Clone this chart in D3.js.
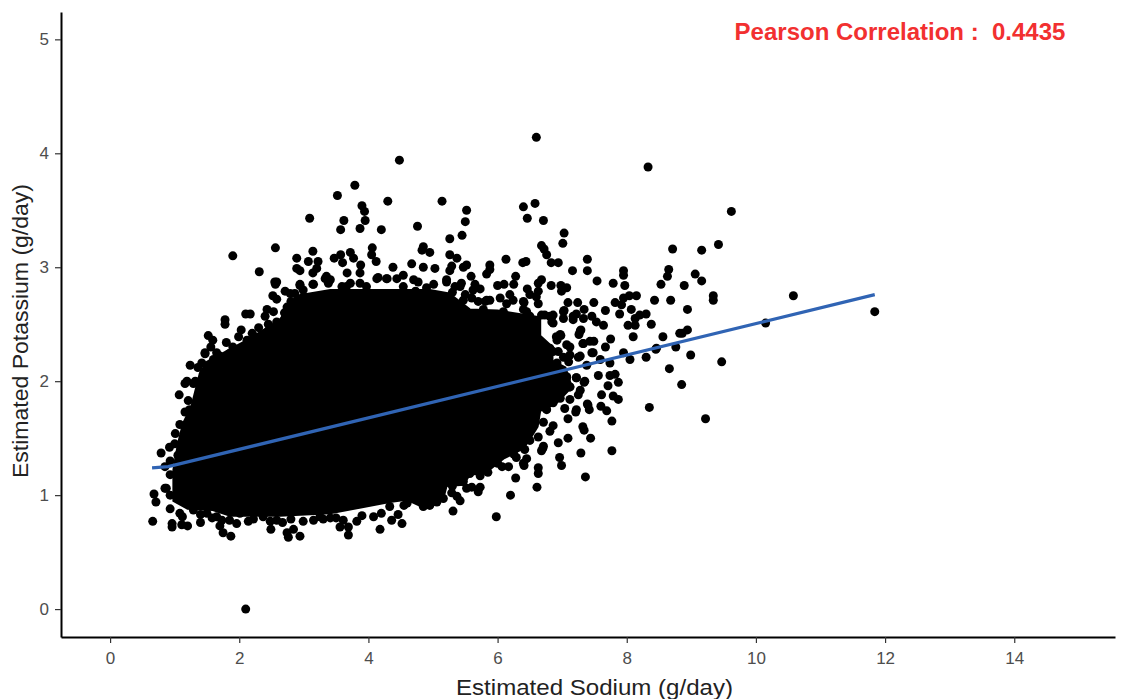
<!DOCTYPE html>
<html><head><meta charset="utf-8">
<script src="https://cdn.jsdelivr.net/npm/d3@7"></script>
<style>html,body{margin:0;padding:0;background:#fff}svg{display:block}</style>
</head><body><svg id="c" width="1126" height="699"></svg>
<script>
const xTicks=[0,2,4,6,8,10,12,14];
const yTicks=[0,1,2,3,4,5];
const xTitle="Estimated Sodium (g/day)";
const yTitle="Estimated Potassium (g/day)";
const note="Pearson Correlation :  0.4435";
const trend=[[0.65,1.24],[0.9,1.25],[11.84,2.76]];
// outline of the fully overplotted centre of the cloud, where single dots cannot be read
const denseOutline=[[0.98,1.22],[0.98,0.95],[1.2,0.88],[1.59,0.87],[1.86,0.82],[2.63,0.82],[3.41,0.84],[4.33,0.94],[4.59,0.96],[4.82,0.90],[5.16,0.97],[5.21,1.08],[5.47,1.09],[5.57,1.18],[5.80,1.19],[6.09,1.32],[6.40,1.41],[6.50,1.49],[6.62,1.60],[6.66,1.74],[6.90,1.80],[7.15,1.95],[7.05,2.12],[6.85,2.18],[6.85,2.30],[6.66,2.40],[6.66,2.56],[6.0,2.62],[5.57,2.63],[5.25,2.77],[4.95,2.80],[3.41,2.80],[2.89,2.75],[2.63,2.54],[2.12,2.36],[1.50,2.17],[1.39,2.07],[1.26,1.78],[1.13,1.63],[1.05,1.45]];
const upperLeft=[[4.48,3.94],[3.79,3.72],[3.52,3.63],[4.30,3.58],[3.90,3.54],[3.94,3.49],[3.95,3.41],[3.09,3.43],[3.62,3.41],[3.57,3.33],[3.87,3.34],[4.20,3.33],[4.76,3.36],[2.56,3.17],[1.90,3.10],[2.31,2.96],[4.85,3.18],[4.83,3.15],[3.14,3.14],[2.89,3.08],[3.07,3.05],[3.22,3.05],[3.47,3.08],[3.57,3.11],[3.60,3.04],[3.72,3.13],[3.77,3.08],[4.06,3.17],[4.05,3.11],[4.12,3.05],[3.88,3.02],[4.38,3.00],[4.67,3.03],[4.85,3.00],[2.89,2.99],[2.94,2.97],[3.20,2.99],[3.14,2.95],[3.67,2.95],[3.87,2.95],[2.58,2.87],[2.56,2.85],[2.71,2.79],[2.52,2.75],[2.58,2.72],[2.10,2.59],[2.17,2.59],[1.78,2.54],[1.78,2.50],[1.52,2.40],[1.59,2.36],[2.03,2.45],[1.99,2.39],[1.80,2.34],[2.24,2.39],[2.48,2.40],[1.56,2.30],[1.47,2.24],[1.84,2.24],[1.24,2.14],[3.35,2.92],[2.94,2.84],[3.14,2.85],[4.15,2.91],[4.77,2.87],[4.73,2.79],[4.29,2.90],[2.43,2.63],[2.53,2.61],[2.40,2.57],[2.58,2.52],[2.74,2.65],[2.86,2.77],[4.54,2.93],[4.44,2.90],[3.41,2.89],[3.66,2.83],[3.87,2.86],[2.99,2.80],[1.70,2.22],[1.96,2.27],[2.12,2.36],[2.58,2.45],[2.68,2.48],[2.37,2.38],[1.42,2.16],[1.60,2.19],
[2.55,2.87],[2.94,2.85],[3.15,2.85],[3.33,2.90],[3.38,2.86],[3.59,2.83],[3.72,2.86],[4.13,2.90],[4.28,2.90],[4.70,2.89],[5.01,2.85],[5.21,2.87],[5.44,2.86],[3.97,2.83],[4.54,2.83],[4.90,2.82],[5.34,2.83],[2.79,2.77],[2.30,2.47],[2.45,2.50],[2.70,2.60],[2.80,2.70],[2.20,2.42],[1.90,2.30],[1.65,2.25],[1.36,2.12]];
const upperRight=[[6.60,4.14],[8.33,3.88],[5.14,3.58],[5.52,3.50],[5.50,3.40],[5.26,3.25],[5.45,3.28],[6.40,3.53],[6.58,3.56],[6.46,3.43],[6.71,3.41],[7.03,3.30],[7.01,3.21],[8.71,3.16],[6.68,3.19],[6.72,3.16],[6.76,3.11],[4.95,3.13],[5.26,3.11],[5.37,3.08],[6.13,3.07],[6.39,3.04],[6.44,3.05],[6.83,3.04],[6.94,3.04],[7.39,3.07],[7.39,2.97],[7.16,2.97],[7.95,2.97],[7.95,2.93],[8.65,2.98],[8.63,2.92],[8.53,2.85],[5.03,2.99],[5.29,3.01],[5.26,2.97],[5.47,3.00],[5.52,3.02],[5.59,2.92],[5.88,3.02],[5.88,2.98],[5.83,2.94],[6.28,2.92],[6.68,2.89],[6.63,2.86],[7.54,2.88],[7.79,2.86],[7.97,2.84],[6.83,2.84],[6.98,2.84],[7.07,2.82],[6.99,2.79],[6.00,2.84],[6.10,2.85],[6.25,2.85],[6.46,2.81],[6.63,2.79],[5.65,2.85],[5.73,2.81],[5.62,2.80],[5.42,2.83],[5.21,2.89],[6.60,2.74],[6.50,2.76],[8.15,2.75],[8.04,2.75],[7.95,2.73],[8.43,2.71],[8.68,2.71],[7.82,2.69],[7.92,2.67],[7.09,2.69],[7.24,2.69],[7.49,2.69],[6.41,2.69],[6.63,2.68],[6.19,2.76],[6.04,2.73],[5.88,2.71],[5.81,2.70],[6.14,2.68],[5.60,2.73],[5.47,2.71],[7.67,2.62],[8.07,2.63],[7.89,2.59],[8.30,2.59],[8.20,2.58],[8.13,2.55],[8.38,2.50],[8.02,2.49],[8.13,2.49],[7.34,2.63],[7.03,2.62],[6.73,2.58],[6.86,2.58],[7.02,2.55],[6.84,2.52],[7.17,2.54],[7.22,2.59],[7.46,2.57],[7.53,2.52],[7.64,2.49],[6.40,2.63],[6.50,2.57],[6.27,2.52],[7.29,2.45],[7.26,2.41],[6.98,2.40],[6.92,2.36],[7.75,2.37],[8.10,2.39],[8.56,2.39],[7.32,2.33],[7.49,2.35],[7.12,2.30],[7.67,2.30],[6.76,2.29],[6.86,2.26],[7.48,2.25],[7.25,2.21],[7.02,2.21],[7.95,2.25],[8.30,2.21],[8.05,2.19],[8.46,2.29],[8.76,2.30],[8.66,2.11],[8.82,2.42],[7.74,2.16],[7.38,2.14],[7.59,2.19],[6.66,2.16],[6.76,2.16],[6.92,2.16],[7.10,2.17],
[7.02,2.61],[7.17,2.57],[7.33,2.55],[6.86,2.51],[6.97,2.41],[6.81,2.29],[6.94,2.26],[7.07,2.32],[7.12,2.23],[7.28,2.22],[7.46,2.25],[6.91,2.39],[7.28,2.44],[7.33,2.33],[7.43,2.35],[7.07,2.03],[7.22,2.03],[7.35,2.00],[7.12,1.95],[7.28,1.92],[6.91,2.01],[6.97,1.92],[6.81,1.87],[6.97,1.85],[7.22,1.75],[7.40,1.79],[6.75,1.76],[5.83,2.71],[6.24,2.71],[6.40,2.70],[5.78,2.63],[6.09,2.61],[6.45,2.61],[6.68,2.58],[6.81,2.57],[5.30,2.78],[5.50,2.76],[5.70,2.70]];
const farRight=[[9.62,3.49],[9.42,3.20],[9.16,3.15],[9.06,2.94],[9.16,2.88],[8.89,2.84],[9.34,2.75],[9.34,2.71],[10.58,2.75],[8.94,2.63],[11.84,2.61],[10.15,2.51],[8.94,2.45],[8.86,2.42],[8.45,2.28],[8.99,2.23],[9.47,2.17],[8.85,1.97],[8.35,1.77],[9.22,1.67]];
const lowerRight=[[7.56,2.05],[7.74,2.05],[7.82,2.06],[7.87,1.99],[7.71,1.96],[7.61,1.88],[7.79,1.87],[7.87,1.84],[7.60,1.78],[7.69,1.74],[7.77,1.65],[7.39,1.80],[7.42,1.75],[7.34,1.99],[7.22,2.03],[7.07,2.04],[6.99,1.97],[7.12,1.95],[7.25,1.88],[7.12,1.84],[7.04,1.76],[7.21,1.73],[7.09,1.67],[6.86,1.81],[6.76,1.75],[6.71,1.64],[6.86,1.61],[6.81,1.56],[7.32,1.60],[7.34,1.57],[7.44,1.50],[7.09,1.50],[6.94,1.46],[6.63,1.51],[6.71,1.43],[6.68,1.39],[7.29,1.37],[7.77,1.39],[6.96,1.33],[6.99,1.26],[7.36,1.16],[6.63,1.24],[6.63,1.19],[6.41,1.26],[6.45,1.32],[6.29,1.33],[6.07,1.25],[6.17,1.25],[6.28,1.15],[6.61,1.07],[6.20,1.00],[5.98,0.81],[5.31,0.86],[5.73,1.17],[5.52,1.06],[5.60,1.07],[5.73,1.07],[5.70,1.03],[5.29,1.02],[5.37,0.99],[5.42,0.95],[5.06,0.94],[4.95,0.91],[5.57,1.19],
[4.33,0.90],[4.60,0.93],[5.00,0.98],[5.16,0.97],[5.30,1.08],[5.47,1.12],[5.85,1.20],[6.00,1.28],[6.25,1.36],[6.42,1.40],[6.50,1.48],[6.40,1.28],[6.70,1.41]];
const lowerLeft=[[1.07,1.88],[1.16,1.98],[1.29,1.98],[1.21,1.83],[1.23,1.75],[1.08,1.62],[1.01,1.54],[0.92,1.42],[0.79,1.37],[0.68,1.01],[0.71,0.94],[0.85,1.06],[0.93,1.00],[0.93,0.88],[0.66,0.77],[0.96,0.75],[0.96,0.72],[1.12,0.81],[1.11,0.74],[1.20,0.73],[1.40,0.76],[1.50,0.84],[1.70,0.73],[1.75,0.67],[1.87,0.64],[1.73,0.78],[1.96,0.75],[2.14,0.77],[2.49,0.70],[2.48,0.77],[2.67,0.76],[2.74,0.67],[2.76,0.63],[2.84,0.70],[2.94,0.64],[2.99,0.77],[3.30,0.79],[3.56,0.72],[3.69,0.65],[3.69,0.72],[3.82,0.77],[4.18,0.70],[4.36,0.78],[4.46,0.83],[4.52,0.75],[4.55,0.91],[4.85,0.90],[4.08,0.81],[3.61,0.78],[3.41,0.80],[3.15,0.78],[2.37,0.81],[2.01,0.84],[1.65,0.81],[1.29,0.87],[4.75,0.96],[2.10,0.00],
[1.47,2.25],[1.50,2.07],[1.19,2.00],[1.32,2.00],[1.16,1.73],[0.85,1.25],[0.93,1.18],[0.87,1.06],[0.93,1.30],[1.00,1.45],[1.05,1.35],
[1.08,0.84],[1.40,0.83],[1.58,0.80],[1.85,0.78],[2.22,0.79],[2.58,0.78],[2.80,0.79],[3.25,0.81],[3.50,0.80],[3.90,0.82],[4.20,0.84]];
const allPoints=[].concat(upperLeft,upperRight,farRight,lowerRight,lowerLeft);

const svg=d3.select("#c");
const x=d3.scaleLinear().domain([-0.76,15.56]).range([61,1115]);
const y=d3.scaleLinear().domain([-0.245,5.24]).range([637,12]);

svg.append("path").datum(denseOutline)
  .attr("d",d3.line().x(d=>x(d[0])).y(d=>y(d[1])).curve(d3.curveLinearClosed))
  .attr("fill","#000").attr("stroke","#000").attr("stroke-width",2);
svg.append("g").selectAll("circle").data(allPoints).join("circle")
  .attr("cx",d=>x(d[0])).attr("cy",d=>y(d[1])).attr("r",4.5).attr("fill","#000");
svg.append("path").datum(trend)
  .attr("d",d3.line().x(d=>x(d[0])).y(d=>y(d[1])))
  .attr("fill","none").attr("stroke","#3064b4").attr("stroke-width",3.2);

const font="'Liberation Sans',Arial,sans-serif";
function styleAxis(g){
  g.selectAll(".domain").attr("stroke","#000").attr("stroke-width",2);
  g.selectAll(".tick line").attr("stroke","#333").attr("stroke-width",1.2);
  g.selectAll(".tick text").attr("fill","#4d4d4d").attr("font-family",font).attr("font-size",17);
}
svg.append("g").attr("transform","translate(0,637)")
  .call(d3.axisBottom(x).tickValues(xTicks).tickFormat(d3.format("d")).tickSize(6).tickPadding(9).tickSizeOuter(0)).call(styleAxis);
svg.append("g").attr("transform","translate(61,0)")
  .call(d3.axisLeft(y).tickValues(yTicks).tickFormat(d3.format("d")).tickSize(6).tickPadding(6).tickSizeOuter(0)).call(styleAxis);

svg.append("text").attr("x",594.5).attr("y",695).attr("text-anchor","middle")
  .attr("textLength",277).attr("lengthAdjust","spacingAndGlyphs")
  .attr("font-family",font).attr("font-size",22.5).attr("fill","#222").text(xTitle);
svg.append("text").attr("transform","translate(28,331) rotate(-90)").attr("text-anchor","middle")
  .attr("textLength",294).attr("lengthAdjust","spacingAndGlyphs")
  .attr("font-family",font).attr("font-size",22.5).attr("fill","#222").text(yTitle);
svg.append("text").attr("x",900).attr("y",40).attr("text-anchor","middle")
  .style("white-space","pre")
  .attr("font-family",font).attr("font-weight","bold").attr("font-size",24).attr("fill","#f23030").text(note);
</script></body></html>
